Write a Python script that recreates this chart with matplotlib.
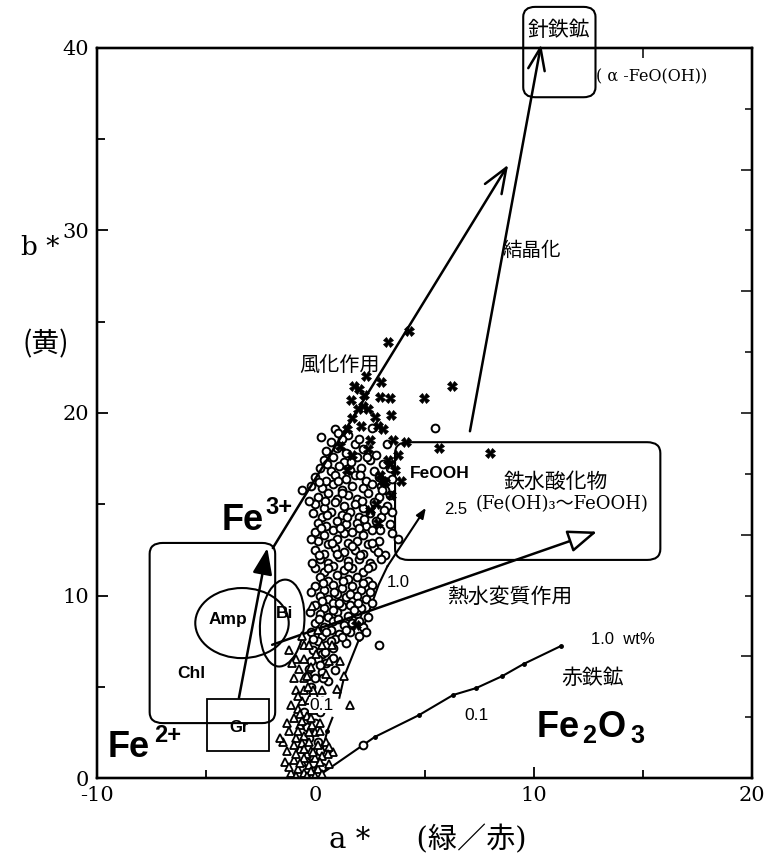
import matplotlib
matplotlib.use("Agg")
import matplotlib.pyplot as plt
from matplotlib.patches import FancyBboxPatch, Ellipse, Rectangle
import numpy as np

plt.rcParams["axes.unicode_minus"] = False
plt.rcParams["mathtext.fontset"] = "custom"
plt.rcParams["mathtext.bf"] = "Liberation Sans:bold"
plt.rcParams["mathtext.rm"] = "Liberation Sans"

JP = ["Noto Sans CJK JP", "DejaVu Serif"]
SERIF = ["DejaVu Serif", "Noto Sans CJK JP"]
SANS = ["Liberation Sans", "DejaVu Sans"]

# ---- measured samples (a*, b*) ----
circles = [
    (0.9, 19.1), (1.5, 18.8), (2.6, 19.2),
    (0.7, 18.4), (1.2, 18.6), (1.8, 18.3), (3.3, 18.3),
    (0.5, 17.9), (1.0, 18.1), (1.4, 17.8), (2.2, 18.0), (2.8, 17.7),
    (0.4, 17.4), (0.8, 17.6), (1.3, 17.3), (1.9, 17.6), (2.5, 17.4), (3.1, 17.2),
    (0.2, 17.0), (0.7, 16.8), (1.1, 17.1), (1.6, 16.9), (2.1, 17.0), (2.7, 16.8), (3.4, 17.0),
    (0.0, 16.5), (0.5, 16.3), (0.9, 16.6), (1.4, 16.4), (1.8, 16.6), (2.3, 16.3), (2.9, 16.5), (3.5, 16.4),
    (-0.2, 16.0), (0.3, 15.9), (0.8, 16.1), (1.2, 15.8), (1.7, 16.0), (2.2, 15.9), (2.6, 16.1), (3.2, 15.8),
    (-0.6, 15.8),
    (0.1, 15.4), (0.6, 15.6), (1.0, 15.3), (1.5, 15.5), (1.9, 15.3), (2.4, 15.6), (2.9, 15.4), (3.4, 15.5),
    (0.0, 15.0), (0.4, 14.8), (0.9, 15.1), (1.3, 14.9), (1.8, 15.0), (2.2, 14.8), (2.7, 15.1), (3.3, 14.9),
    (-0.1, 14.5), (0.3, 14.3), (0.7, 14.6), (1.2, 14.4), (1.6, 14.6), (2.0, 14.3), (2.5, 14.5), (3.0, 14.3), (3.5, 14.6),
    (0.1, 14.0), (0.5, 13.8), (1.0, 14.1), (1.4, 13.9), (1.9, 14.0), (2.3, 13.8), (2.8, 14.1), (3.4, 13.9),
    (0.0, 13.5), (0.4, 13.3), (0.8, 13.6), (1.3, 13.4), (1.7, 13.5), (2.2, 13.3), (2.6, 13.6), (3.5, 13.4),
    (3.8, 13.1),
    (0.1, 13.0), (0.6, 12.8), (1.0, 13.1), (1.5, 12.9), (1.9, 13.0), (2.4, 12.8), (2.9, 13.0),
    (0.0, 12.5), (0.4, 12.3), (0.9, 12.6), (1.3, 12.4), (1.8, 12.5), (2.2, 12.3), (2.7, 12.6), (3.2, 12.2),
    (0.2, 12.0), (0.6, 11.8), (1.1, 12.1), (1.5, 11.9), (2.0, 12.0), (2.5, 11.8), (3.0, 12.0),
    (0.0, 11.5), (0.4, 11.3), (0.8, 11.6), (1.3, 11.4), (1.7, 11.5), (2.2, 11.3), (2.6, 11.6),
    (0.2, 11.0), (0.6, 10.8), (1.0, 11.1), (1.5, 10.9), (1.9, 11.0), (2.4, 10.8),
    (0.0, 10.5), (0.4, 10.3), (0.8, 10.6), (1.2, 10.4), (1.7, 10.5), (2.1, 10.3), (2.6, 10.6),
    (0.2, 10.0), (0.6, 9.8), (1.0, 10.1), (1.4, 9.9), (1.9, 10.0), (2.3, 9.8),
    (0.0, 9.5), (0.4, 9.3), (0.8, 9.6), (1.2, 9.4), (1.6, 9.5), (2.1, 9.3), (2.6, 9.6),
    (0.2, 9.0), (0.6, 8.8), (1.0, 9.1), (1.5, 8.9), (1.9, 9.0), (2.4, 8.8),
    (0.0, 8.5), (0.4, 8.3), (0.8, 8.6), (1.3, 8.4), (1.7, 8.5), (2.2, 8.3),
    (-0.2, 8.0), (0.3, 7.8), (0.7, 8.1), (1.1, 7.9), (1.6, 8.0), (2.0, 7.8),
    (0.1, 7.5), (0.5, 7.3), (0.9, 7.6), (1.4, 7.4),
    (2.9, 7.3),
    (-0.1, 7.0), (0.3, 6.8), (0.8, 7.1),
    (0.1, 6.5), (0.5, 6.3),
    (-0.3, 6.0), (0.3, 5.8),
    (0.0, 5.5), (0.6, 5.3),
    (-0.2, 5.0),
    (0.2, 3.6), (-0.4, 2.8), (0.1, 2.0), (-0.2, 1.2), (0.3, 0.6), (2.2, 1.8),
    (5.5, 19.2),
    # second group of specimens
    (0.25, 18.7), (1.05, 18.9), (2.0, 18.6), (0.55, 17.2), (1.65, 17.3), (2.35, 17.6),
    (0.15, 16.2), (1.05, 16.3), (2.05, 16.6), (3.0, 16.0), (0.45, 15.2), (1.2, 15.6),
    (2.15, 15.2), (3.05, 15.8), (-0.3, 15.2), (0.55, 14.4), (1.45, 14.3), (2.25, 14.2),
    (3.15, 14.7), (0.25, 13.7), (1.15, 13.7), (2.0, 13.7), (2.95, 13.6), (-0.2, 13.1),
    (0.75, 12.9), (1.7, 12.7), (2.6, 12.9), (0.15, 12.2), (1.0, 12.3), (2.05, 12.2),
    (2.85, 12.4), (-0.15, 11.8), (0.6, 11.5), (1.5, 11.6), (2.4, 11.5), (0.35, 10.7),
    (1.25, 10.8), (2.2, 10.7), (-0.2, 10.2), (0.85, 10.2), (1.6, 10.1), (2.5, 10.2),
    (0.3, 9.7), (1.1, 9.6), (1.95, 9.6), (-0.25, 9.1), (0.8, 9.2), (1.75, 9.2),
    (0.15, 8.7), (1.05, 8.7), (2.0, 8.6), (0.5, 8.0), (1.4, 8.1), (2.3, 8.0),
    (-0.1, 7.6), (0.7, 7.5), (1.2, 7.7), (0.45, 6.9), (-0.2, 6.4), (0.8, 6.6),
    (0.2, 6.2), (-0.4, 5.6), (0.35, 5.5), (0.9, 5.9), (-0.1, 4.5), (0.3, 4.2),
    (-0.5, 3.6), (0.0, 3.0), (-0.3, 2.2), (0.2, 1.5), (-0.1, 0.8), (0.1, 0.3),
]
triangles = [
    (-0.14, 9.4), (-0.5, 7.3), (-0.28, 7.3), (0.3, 7.3), (0.78, 7.3),
    (-0.9, 6.5), (-0.5, 6.5), (0.64, 6.4), (1.15, 6.4), (-1.06, 6.3),
    (-0.97, 5.5), (-0.5, 5.5), (-0.37, 5.6),
    (-0.9, 4.8), (-0.5, 4.8), (-0.1, 4.8), (0.3, 4.8), (1.6, 4.0),
    (-0.6, 4.2), (-0.8, 3.8), (-0.1, 3.7), (-1.0, 3.3), (-0.4, 3.4), (0.2, 3.0), (-0.7, 2.9), (-0.2, 2.8),
    (-1.2, 2.6), (0.0, 2.5), (-0.9, 2.2), (-0.5, 2.3), (-1.5, 2.0), (-0.3, 2.0), (0.5, 2.0), (0.1, 1.8),
    (-0.7, 1.6), (-1.3, 1.5), (-0.2, 1.5), (0.8, 1.4), (0.64, 1.7), (-0.4, 1.3), (0.6, 1.3), (0.3, 1.2),
    (0.0, 1.1), (-1.0, 1.0), (-0.6, 0.9), (0.64, 0.77), (-0.3, 0.7), (-0.8, 0.5), (0.1, 0.5), (-0.5, 0.3),
    (-1.1, 0.3), (0.3, 0.2), (-0.1, 0.2), (-0.9, 1.3), (-1.6, 2.2), (-0.6, 1.9), (0.23, 2.6), (-0.14, 2.9),
    (-0.3, 4.3), (-0.7, 3.5), (0.0, 3.9), (-0.5, 1.1), (-0.2, 0.4), (0.0, 0.1),
    (-1.3, 3.0), (-0.8, 2.6), (-0.3, 2.5), (-1.0, 1.8), (-0.5, 1.6), (-0.1, 1.4),
    (-1.4, 0.9), (-0.7, 0.8), (-0.4, 0.1), (-0.9, 0.1), (-1.2, 0.6), (0.2, 0.9),
    (-0.6, 3.1), (-1.1, 4.0), (-0.2, 3.3), (-0.8, 4.5), (-0.35, 5.0), (-0.75, 6.0),
    (-0.2, 6.1), (0.05, 6.8), (0.5, 5.7), (-0.6, 7.8), (0.1, 8.1), (-1.2, 7.0),
    (1.3, 5.6), (1.0, 4.9),
]
crosses = [
    (4.28, 24.5), (3.31, 23.9), (6.25, 21.5), (4.97, 20.8), (3.45, 19.9), (5.66, 18.1),
    (8.0, 17.8), (4.14, 18.4), (2.99, 21.7), (2.30, 22.0), (1.79, 21.5), (3.40, 20.8),
    (2.94, 20.9), (1.61, 20.7), (2.71, 19.8), (2.85, 19.3), (2.48, 18.5), (2.0, 21.3),
    (2.25, 21.0), (2.16, 20.4), (1.93, 20.2), (2.39, 20.2), (1.70, 19.7), (2.07, 19.3),
    (1.47, 19.1), (3.08, 19.1), (3.54, 18.5), (3.77, 17.7), (3.31, 17.4), (3.63, 16.9),
    (3.08, 16.3), (3.45, 15.5), (2.76, 15.0), (1.47, 16.9), (1.15, 18.2), (1.70, 17.7),
    (2.39, 18.0), (3.91, 16.3), (2.94, 16.6), (3.17, 16.2), (3.40, 17.2), (2.85, 14.0),
    (2.48, 14.7), (1.84, 8.4),
]
circle_a, circle_b = np.array(circles).T
tri_a, tri_b = np.array(triangles).T
cross_a, cross_b = np.array(crosses).T

# goethite admixture curve (wt%), break at the 0.1 label
goethite_a = [0.0, 0.55, 0.78, np.nan, 1.1, 1.33, 2.0, 2.9, 3.3, 5.06]
goethite_b = [0.0, 2.6, 3.3, np.nan, 4.4, 5.6, 7.6, 10.6, 11.6, 14.8]
goethite_tick_a = [0.55, 1.33, 2.0]
goethite_tick_b = [2.6, 5.6, 7.6]
# hematite admixture curve
hematite_a = [0.0, 2.72, 4.75, 6.31, 7.37, 8.57, 9.54, 11.24]
hematite_b = [0.0, 2.25, 3.45, 4.55, 4.93, 5.59, 6.25, 7.23]

fig = plt.figure(figsize=(7.67, 8.64), dpi=100)
ax = fig.add_axes([0.1265, 0.0995, 0.854, 0.845])
ax.set_xlim(-10, 20)
ax.set_ylim(0, 40)
ax.set_xticks([-10, 0, 10, 20])
ax.set_xticks([-5, 5, 15], minor=True)
ax.set_yticks([0, 10, 20, 30, 40])
ax.set_yticks([5, 15, 25, 35], minor=True)
ax.tick_params(which="both", direction="in", width=1.3, labelsize=15, pad=6)
ax.tick_params(which="major", length=8)
ax.tick_params(which="minor", length=6)
for lab in ax.get_xticklabels() + ax.get_yticklabels():
    lab.set_family("DejaVu Serif")
for s in ax.spines.values():
    s.set_linewidth(1.6)

# extra tick sets on right and top frame
tw = ax.twinx()
tw.set_ylim(0, 12)
tw.set_yticks(range(0, 13, 2))
tw.set_yticks(range(1, 12, 2), minor=True)
tw.tick_params(which="both", direction="in", width=1.1, labelright=False)
tw.tick_params(which="major", length=8)
tw.tick_params(which="minor", length=5)
tw.patch.set_visible(False)
ty = ax.twiny()
ty.set_xlim(0, 6)
ty.set_xticks([5])
ty.tick_params(direction="in", length=7, width=1.1, labeltop=False)
ty.patch.set_visible(False)
for a in (tw, ty):
    for s in a.spines.values():
        s.set_linewidth(1.6)

# data points
ax.plot(circle_a, circle_b, "o", ms=5.6, mfc="white", mec="black", mew=1.4, ls="none", zorder=3)
ax.plot(tri_a, tri_b, "^", ms=6, mfc="white", mec="black", mew=1.3, ls="none", zorder=4)
ax.plot(cross_a, cross_b, "X", ms=6.5, mfc="black", mec="black", mew=0.5, ls="none", zorder=5)

# reference curves
ax.plot(goethite_a[:-1], goethite_b[:-1], color="black", lw=1.5, zorder=2)
ax.annotate("", xy=(goethite_a[-1], goethite_b[-1]), xytext=(goethite_a[-2], goethite_b[-2]),
            arrowprops=dict(arrowstyle="-|>,head_length=0.5,head_width=0.2", lw=1.5,
                            color="black", shrinkA=0, shrinkB=0, mutation_scale=12))
ax.plot(goethite_tick_a, goethite_tick_b, "o", ms=2.5, color="black", zorder=2)
ax.plot(hematite_a, hematite_b, "-o", color="black", lw=1.5, ms=2.5, zorder=2)

def arrow(start, end, style, lw=1.8, fc="black", scale=20):
    ax.annotate("", xy=end, xytext=start, annotation_clip=False,
                arrowprops=dict(arrowstyle=style, lw=lw, color="black", fc=fc,
                                shrinkA=0, shrinkB=0, mutation_scale=scale))

arrow((-1.95, 12.6), (8.83, 33.6), "->,head_length=0.9,head_width=0.35")       # weathering
arrow((7.08, 19.0), (10.34, 40.2), "->,head_length=0.8,head_width=0.3")        # crystallization
arrow((-1.98, 7.3), (12.9, 13.5), "-|>,head_length=0.9,head_width=0.35", fc="white")  # hydrothermal
arrow((-3.5, 4.4), (-2.2, 12.6), "-|>,head_length=0.8,head_width=0.3")         # Gr -> Fe3+

# region outlines
ax.add_patch(FancyBboxPatch((9.52, 37.3), 3.31, 4.95, boxstyle="round,pad=0,rounding_size=0.55",
                            fill=False, lw=1.5, ec="black", clip_on=False))
ax.add_patch(FancyBboxPatch((3.65, 11.95), 12.15, 6.45, boxstyle="round,pad=0,rounding_size=0.6",
                            fill=False, lw=1.5, ec="black"))
ax.add_patch(FancyBboxPatch((-7.59, 3.01), 5.75, 9.87, boxstyle="round,pad=0,rounding_size=0.6",
                            fill=False, lw=1.5, ec="black"))
ax.add_patch(Ellipse((-3.36, 8.49), 4.28, 3.84, fill=False, lw=1.5, ec="black"))
ax.add_patch(Ellipse((-1.52, 8.49), 2.02, 4.77, angle=-4, fill=False, lw=1.5, ec="black"))
ax.add_patch(Rectangle((-4.97, 1.48), 2.86, 2.85, fill=False, lw=1.3, ec="black"))

# annotations
ax.text(11.17, 41.0, "針鉄鉱", family=JP, fontsize=15, ha="center", va="center", clip_on=False)
ax.text(12.85, 38.4, "( α -FeO(OH))", family=SERIF, fontsize=11.5, ha="left", va="center")
ax.text(9.9, 28.9, "結晶化", family=JP, fontsize=14, ha="center", va="center")
ax.text(1.1, 22.6, "風化作用", family=JP, fontsize=14.5, ha="center", va="center")
ax.text(5.7, 16.7, "FeOOH", family=SANS, fontsize=12.5, weight="bold", ha="center", va="center")
ax.text(11.0, 16.2, "鉄水酸化物", family=JP, fontsize=15, ha="center", va="center")
ax.text(11.3, 15.0, "(Fe(OH)₃～FeOOH)", family=SERIF, fontsize=13, ha="center", va="center")
ax.text(6.44, 14.7, "2.5", family=SANS, fontsize=12, ha="center", va="center")
ax.text(3.8, 10.7, "1.0", family=SANS, fontsize=12, ha="center", va="center")
ax.text(8.9, 9.9, "熱水変質作用", family=JP, fontsize=15, ha="center", va="center")
ax.text(0.3, 4.0, "0.1", family=SANS, fontsize=12.5, ha="center", va="center", zorder=6,
        bbox=dict(boxstyle="square,pad=0.05", fc="white", ec="none"))
ax.text(14.1, 7.6, "1.0  wt%", family=SANS, fontsize=12, ha="center", va="center")
ax.text(12.7, 5.5, "赤鉄鉱", family=JP, fontsize=15, ha="center", va="center")
ax.text(7.37, 3.45, "0.1", family=SANS, fontsize=12.5, ha="center", va="center")
ax.text(10.1, 2.25, r"$\mathbf{Fe_{\,2}O_{\,3}}$", fontsize=26, ha="left", va="baseline")
# iron valence labels: symbol plus raised charge
ax.text(-4.3, 13.6, "Fe", family=SANS, fontsize=26, weight="bold", ha="left", va="baseline")
ax.text(-2.3, 14.45, "3+", family=SANS, fontsize=17, weight="bold", ha="left", va="baseline")
ax.text(-9.5, 1.15, "Fe", family=SANS, fontsize=26, weight="bold", ha="left", va="baseline")
ax.text(-7.4, 2.0, "2+", family=SANS, fontsize=17, weight="bold", ha="left", va="baseline")
ax.text(-4.0, 8.66, "Amp", family=SANS, fontsize=12.5, weight="bold", ha="center", va="center")
ax.text(-1.43, 9.04, "Bi", family=SANS, fontsize=12.5, weight="bold", ha="center", va="center")
ax.text(-5.66, 5.75, "Chl", family=SANS, fontsize=12.5, weight="bold", ha="center", va="center")
ax.text(-3.49, 2.79, "Gr", family=SANS, fontsize=12, weight="bold", ha="center", va="center")

# axis titles
fig.text(0.052, 0.713, "b *", family=SERIF, fontsize=19, ha="center", va="center")
fig.text(0.059, 0.601, "(黄)", family=JP, fontsize=20, ha="center", va="center")
fig.text(0.558, 0.028, "a *     (緑／赤)", family=SERIF, fontsize=21, ha="center", va="center")

fig.savefig("out.png", dpi=100, facecolor="white")
